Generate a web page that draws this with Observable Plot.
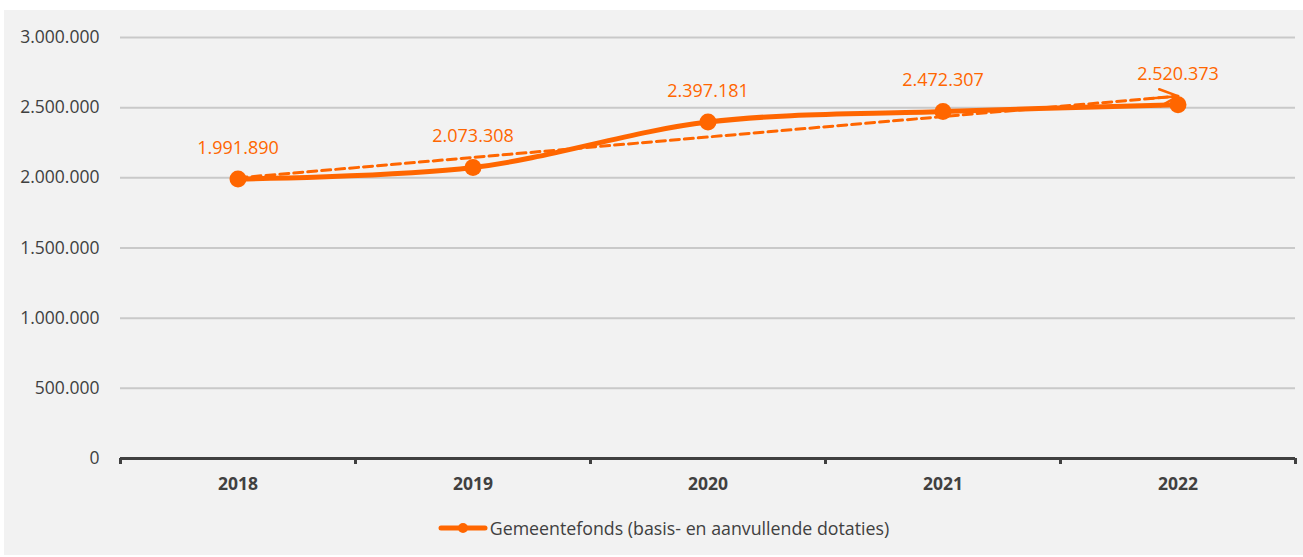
<!DOCTYPE html>
<html><head><meta charset="utf-8">
<script src="https://cdn.jsdelivr.net/npm/d3@7"></script>
<script src="https://cdn.jsdelivr.net/npm/@observablehq/plot@0.6"></script>
<style>
body{margin:0;background:#fff;}
#wrap{position:absolute;left:4px;top:10px;width:1299px;height:545px;background:#f2f2f2;font-family:"Open Sans",sans-serif;}
#legend{display:flex;justify-content:center;align-items:center;height:36px;padding-left:20px;color:#404040;font-size:17.8px;}
#legend svg{margin-right:2px;}
</style></head><body>
<div id="wrap"><div id="chart"></div><div id="legend"></div></div>
<script>
const years = [2018, 2019, 2020, 2021, 2022];
const values = [1991890, 2073308, 2397181, 2472307, 2520373];
const yTicks = [0, 500000, 1000000, 1500000, 2000000, 2500000, 3000000];
const seriesName = "Gemeentefonds (basis- en aanvullende dotaties)";

const orange = "#ff6600";
const nl = d3.formatLocale({decimal: ",", thousands: ".", grouping: [3], currency: ["€ ", ""]});
const fmt = nl.format(",");
const data = years.map((year, i) => ({year, value: values[i]}));

// linear trend line derived from the data
const mx = d3.mean(years), my = d3.mean(values);
const slope = d3.sum(years, (x, i) => (x - mx) * (values[i] - my)) / d3.sum(years, x => (x - mx) ** 2);
const icpt = my - slope * mx;
const tx = [years[0], years[years.length - 1]];
const trend = tx.map(x => ({year: x, value: icpt + slope * x}));
const bounds = [...years.map(y => y - 0.5), years[years.length - 1] + 0.5];

const chart = Plot.plot({
  width: 1299, height: 500,
  marginLeft: 116, marginRight: 8, marginTop: 27, marginBottom: 52,
  style: {background: "transparent", fontFamily: "Open Sans, sans-serif", overflow: "visible"},
  x: {type: "linear", domain: [bounds[0], bounds[bounds.length - 1]], label: null},
  y: {domain: [0, 3000000], label: null},
  marks: [
    Plot.gridY(yTicks.slice(1), {stroke: "#c9c9c9", strokeOpacity: 1, strokeWidth: 2}),
    Plot.line(trend, {x: "year", y: "value", stroke: orange, strokeWidth: 3, strokeDasharray: "9,5"}),
    Plot.arrow([trend], {x1: d => d[0].year, y1: d => d[0].value, x2: d => d[1].year, y2: d => d[1].value,
      stroke: orange, strokeWidth: 2.5, headLength: 12, headAngle: 50, insetStart: 915}),
    Plot.line(data, {x: "year", y: "value", stroke: orange, strokeWidth: 5, curve: "catmull-rom"}),
    Plot.dot(data, {x: "year", y: "value", r: 8.5, fill: orange}),
    Plot.text(data, {x: "year", y: "value", text: d => fmt(d.value), dy: -31, fill: orange, fontSize: 18}),
    Plot.ruleY([0], {stroke: "#404040", strokeWidth: 3}),
    Plot.axisX({ticks: bounds, tickSize: 6, tickFormat: () => "", stroke: "#404040", strokeWidth: 3, label: null}),
    Plot.axisX({ticks: years, tickSize: 0, tickPadding: 19, tickFormat: d => String(d), fontSize: 17.5, fontWeight: "bold", fill: "#404040", label: null}),
    Plot.axisY({ticks: yTicks, tickSize: 0, tickPadding: 21, tickFormat: fmt, fontSize: 17.5, fill: "#404040", label: null})
  ]
});
document.getElementById("chart").appendChild(chart);

const legend = document.getElementById("legend");
legend.innerHTML = `<svg width="50" height="14"><line x1="3" y1="7" x2="47" y2="7" stroke="${orange}" stroke-width="5" stroke-linecap="round"/><circle cx="25" cy="7" r="5" fill="${orange}"/></svg><span></span>`;
legend.querySelector("span").textContent = seriesName;
</script>
</body></html>
